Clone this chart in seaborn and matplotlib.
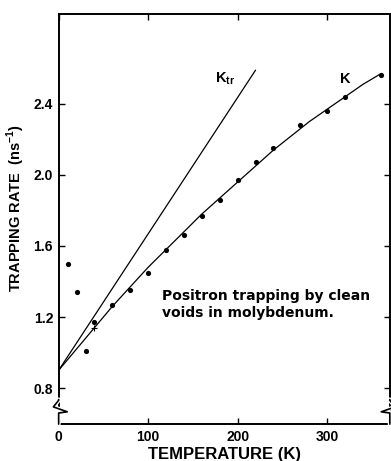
import numpy as np
import pandas as pd
import seaborn as sns
import matplotlib.pyplot as plt

temp_K = [10, 20, 30, 40, 60, 80, 100, 120, 140, 160, 180, 200, 220, 240, 270, 300, 320, 360]
rate = [1.50, 1.34, 1.01, 1.17, 1.27, 1.35, 1.45, 1.58, 1.66, 1.77, 1.86, 1.97, 2.07, 2.15, 2.28, 2.36, 2.44, 2.56]

# smooth K curve and straight K_tr line
k_temp = [0, 20, 40, 60, 80, 100, 120, 140, 160, 180, 200, 220, 240, 260, 280, 300, 320, 340, 360]
k_rate = [0.90, 1.02, 1.14, 1.26, 1.37, 1.48, 1.58, 1.68, 1.78, 1.87, 1.96, 2.05, 2.14, 2.22, 2.30, 2.37, 2.44, 2.51, 2.57]
ktr_temp = [0, 220]
ktr_rate = [0.90, 2.59]

cross_temp = [40]
cross_rate = [1.14]

xticks = [0, 100, 200, 300]
yticks = [0.8, 1.2, 1.6, 2.0, 2.4]

sns.set_style("ticks", {"axes.edgecolor": "black", "text.color": "black", "axes.labelcolor": "black",
                        "xtick.color": "black", "ytick.color": "black"})
plt.rcParams['font.family'] = ['Liberation Sans', 'DejaVu Sans']
plt.rcParams['font.weight'] = 'bold'
plt.rcParams['mathtext.fontset'] = 'custom'
plt.rcParams['mathtext.bf'] = 'Liberation Sans:bold'
plt.rcParams['mathtext.rm'] = 'Liberation Sans:bold'

fig = plt.figure(figsize=(3.91, 4.61), dpi=100)
ax = fig.add_axes([0.150, 0.080, 0.847, 0.890])

pts = pd.DataFrame({"T": temp_K, "rate": rate})
sns.scatterplot(data=pts, x="T", y="rate", ax=ax, color="black", s=14, edgecolor="black", linewidth=0, zorder=3)
sns.lineplot(x=k_temp, y=k_rate, ax=ax, color="black", linewidth=0.9)
sns.lineplot(x=ktr_temp, y=ktr_rate, ax=ax, color="black", linewidth=0.9)
ax.scatter(cross_temp, cross_rate, marker="+", color="black", s=18, linewidths=0.8, zorder=3)

ax.set_xlim(0, 370)
ax.set_ylim(0.597, 2.907)
ax.set_xticks(xticks)
ax.set_xticklabels([str(t) for t in xticks], fontsize=10, fontweight='bold')
ax.set_yticks(yticks)
ax.set_yticklabels([f"{t:.1f}" for t in yticks], fontsize=10, fontweight='bold')
ax.tick_params(direction="in", length=4, width=1, top=True, right=True, pad=4, colors="black")

for s in ax.spines.values():
    s.set_linewidth(1.4)
    s.set_color("black")

ax.set_xlabel("TEMPERATURE (K)", fontsize=12, fontweight='bold', color="black")
ax.xaxis.set_label_coords(0.5, -0.055)
ax.set_ylabel(r"TRAPPING RATE  (ns$^{\mathbf{-1}}$)", fontsize=10.5, fontweight='bold', color="black")
ax.yaxis.set_label_coords(-0.096, 0.527)

ax.text(0.473, 0.832, r"K$_{\mathbf{tr}}$", transform=ax.transAxes, fontsize=10.5, va='baseline',
        fontweight='bold', color="black")
ax.text(0.849, 0.832, "K", transform=ax.transAxes, fontsize=10.5, va='baseline', fontweight='bold', color="black")
ax.text(0.313, 0.329, "Positron trapping by clean\nvoids in molybdenum.", transform=ax.transAxes,
        fontsize=10, va='top', linespacing=1.25, family='DejaVu Sans', fontweight='bold', color="black")

# axis break marks on the vertical spines
for xa, sgn in [(0.0, 1), (1.0, -1)]:
    zx = [xa, xa, xa - sgn * 0.016, xa + sgn * 0.026, xa, xa]
    zy = [0.06, 0.058, 0.042, 0.03, 0.027, 0.0]
    ax.plot(zx, zy, transform=ax.transAxes, color="white", linewidth=3, clip_on=False, zorder=4)
    ax.plot(zx, zy, transform=ax.transAxes, color="black", linewidth=1.2, clip_on=False, zorder=5)

fig.savefig("out.png", dpi=100)
